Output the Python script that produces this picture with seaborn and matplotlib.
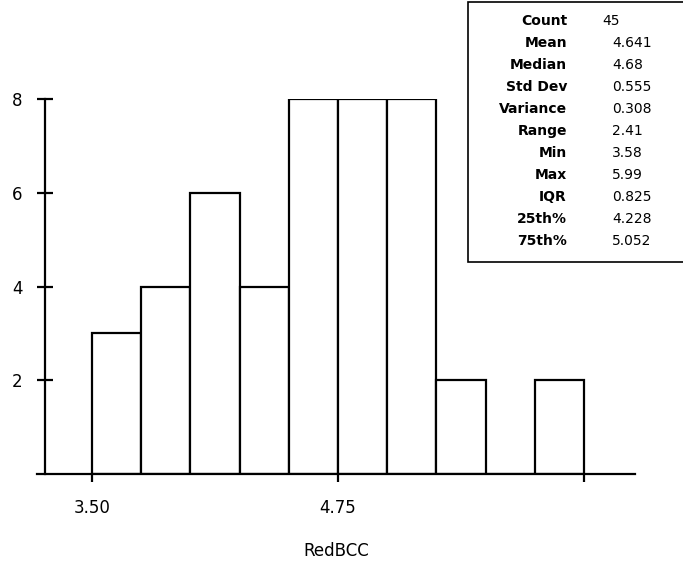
import matplotlib
matplotlib.use("Agg")
import matplotlib.pyplot as plt
import numpy as np
import seaborn as sns
from matplotlib.patches import Rectangle

# histogram of RedBCC, bins of width 0.25 starting at 3.50
bin_edges = [3.50, 3.75, 4.00, 4.25, 4.50, 4.75, 5.00, 5.25, 5.50, 5.75, 6.00]
bin_counts = [3, 4, 6, 4, 8, 8, 8, 2, 0, 2]
x_ticks = [3.50, 4.75, 6.00]
x_ticklabels = ["3.50", "4.75", ""]
y_ticks = [2, 4, 6, 8]

stat_names = ["Count", "Mean", "Median", "Std Dev", "Variance", "Range",
              "Min", "Max", "IQR", "25th%", "75th%"]
stat_values = ["45", "4.641", "4.68", "0.555", "0.308", "2.41",
               "3.58", "5.99", "0.825", "4.228", "5.052"]

centers = [(bin_edges[i] + bin_edges[i + 1]) / 2 for i in range(len(bin_counts))]

sns.set_style("white")
plt.rcParams['font.family'] = ['DejaVu Sans']
plt.rcParams['text.color'] = 'black'
plt.rcParams['xtick.color'] = 'black'
plt.rcParams['ytick.color'] = 'black'
plt.rcParams['axes.labelcolor'] = 'black'

W, H = 683, 569
fig = plt.figure(figsize=(W / 100, H / 100), dpi=100)

# axes placed in pixels: x spine 37..635, y 0..8 spans 474..99
px_per_unit = (338 - 92) / 1.25
x_left = 3.50 - (92 - 37) / px_per_unit
x_right = 3.50 + (635 - 92) / px_per_unit
ax = fig.add_axes([37 / W, 1 - 474 / H, (635 - 37) / W, (474 - 99) / H])

sns.histplot(x=centers, weights=bin_counts, bins=bin_edges, ax=ax,
             color="white", edgecolor="black", linewidth=1.6, alpha=1)

ax.set_xlim(x_left, x_right)
ax.set_ylim(0, 8)
ax.spines['top'].set_visible(False)
ax.spines['right'].set_visible(False)
ax.spines['left'].set_position(('data', 3.50 - (92 - 45) / px_per_unit))
for s in ['left', 'bottom']:
    ax.spines[s].set_linewidth(1.6)
    ax.spines[s].set_color("black")

ax.set_xticks(x_ticks)
ax.set_xticklabels(x_ticklabels)
ax.set_yticks(y_ticks)
ax.tick_params(axis='x', direction='out', length=6, width=1.6, labelsize=12, pad=12, bottom=True)
ax.tick_params(axis='y', direction='inout', length=12, width=1.6, labelsize=12, pad=10, left=True)
ax.set_ylabel("")
ax.set_xlabel("RedBCC", fontsize=12, labelpad=18)

# summary statistics box
fig.add_artist(Rectangle((468 / W, 1 - 262 / H), (W - 468 + 5) / W, (262 - 2) / H,
                         transform=fig.transFigure, facecolor="white",
                         edgecolor="black", linewidth=1.2, clip_on=False))
for i, (name, val) in enumerate(zip(stat_names, stat_values)):
    y = 1 - (21 + 22 * i) / H
    fig.text(567 / W, y, name, ha="right", va="center", fontsize=10, fontweight="bold")
    vx = 602 if i == 0 else 612
    fig.text(vx / W, y, val, ha="left", va="center", fontsize=10)

fig.savefig("out.png", dpi=100)
